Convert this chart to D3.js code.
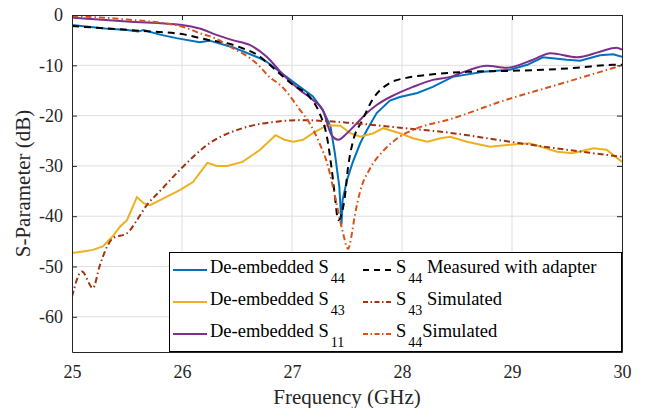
<!DOCTYPE html>
<html>
<head>
<meta charset="utf-8">
<script src="https://cdn.jsdelivr.net/npm/d3@7"></script>
</head>
<body style="margin:0;background:#fff">
<div class="container"></div>
<script>
var width = 646;
var height = 408;
var margin = {top: 15, right: 24, bottom: 56, left: 72};
var fontFamily = "'Liberation Serif', 'DejaVu Serif', serif";

// tick labels
var xTicks = [25, 26, 27, 28, 29, 30];
var yTicks = [0, -10, -20, -30, -40, -50, -60];

// De-embedded S44
var s44F  = [25.0, 25.3, 25.5, 25.6, 25.65, 25.8, 25.95, 26.16, 26.25, 26.46, 26.71, 26.77, 27.01, 27.19, 27.28, 27.35, 27.39, 27.43, 27.45, 27.46, 27.5, 27.55, 27.62, 27.68, 27.77, 27.89, 27.98, 28.14, 28.28, 28.46, 28.74, 28.98, 29.14, 29.28, 29.5, 29.62, 29.8, 29.92, 30.0];
var s44dB = [-2.0, -2.7, -3.0, -3.3, -3.0, -3.9, -4.6, -5.4, -5.1, -6.4, -8.6, -9.3, -13.3, -16.2, -18.9, -22.2, -27.5, -34.1, -41.7, -36.8, -32.8, -29.4, -25.5, -22.9, -19.5, -17.0, -16.3, -15.5, -14.3, -12.3, -11.3, -10.9, -9.9, -8.4, -8.9, -9.1, -8.0, -7.8, -8.3];

// S44 measured with adapter
var s44mF  = [25.0, 25.65, 26.0, 26.25, 26.41, 26.55, 26.71, 26.77, 27.01, 27.16, 27.25, 27.32, 27.36, 27.39, 27.42, 27.48, 27.51, 27.55, 27.64, 27.73, 27.89, 28.04, 28.28, 28.59, 28.98, 29.28, 29.59, 29.92, 30.0];
var s44mdB = [-2.2, -3.2, -3.8, -5.0, -5.6, -6.6, -8.3, -9.4, -13.9, -16.3, -19.5, -24.5, -30.5, -36.0, -40.8, -36.2, -30.2, -25.5, -20.9, -16.9, -13.5, -12.5, -11.8, -11.3, -11.1, -10.9, -10.5, -9.9, -9.9];

// De-embedded S43
var s43F  = [25.0, 25.1, 25.19, 25.28, 25.37, 25.44, 25.5, 25.59, 25.65, 25.71, 25.89, 25.98, 26.1, 26.23, 26.32, 26.41, 26.55, 26.71, 26.85, 26.93, 27.01, 27.1, 27.19, 27.32, 27.44, 27.53, 27.62, 27.74, 27.83, 27.98, 28.1, 28.23, 28.35, 28.44, 28.59, 28.8, 28.98, 29.16, 29.41, 29.55, 29.74, 29.86, 30.0];
var s43dB = [-47.3, -47.0, -46.7, -46.0, -44.0, -42.0, -40.8, -36.2, -37.4, -37.8, -35.8, -34.8, -33.2, -29.4, -30.0, -30.0, -29.2, -26.8, -23.9, -24.8, -25.2, -24.8, -23.5, -21.9, -22.0, -23.5, -24.2, -23.5, -22.5, -23.5, -24.5, -25.2, -24.5, -24.2, -25.2, -26.2, -25.8, -25.5, -27.2, -27.5, -26.5, -26.8, -29.2];

// S43 simulated
var s43sF  = [25.0, 25.09, 25.19, 25.25, 25.32, 25.37, 25.5, 25.59, 25.68, 25.8, 25.98, 26.25, 26.55, 26.86, 27.07, 27.5, 27.98, 28.5, 28.89, 29.5, 30.0];
var s43sdB = [-56.0, -51.0, -54.3, -50.0, -46.0, -44.4, -43.4, -40.8, -37.8, -35.0, -30.8, -25.5, -22.5, -21.2, -20.9, -21.4, -22.4, -23.6, -24.9, -26.8, -28.2];

// De-embedded S11
var s11F  = [25.0, 25.5, 26.0, 26.16, 26.32, 26.46, 26.62, 26.77, 26.92, 27.07, 27.19, 27.28, 27.36, 27.42, 27.5, 27.59, 27.68, 27.77, 27.92, 27.98, 28.1, 28.28, 28.44, 28.59, 28.77, 28.95, 29.19, 29.35, 29.59, 29.8, 29.95, 30.0];
var s11dB = [-0.5, -1.3, -2.0, -2.7, -4.0, -5.0, -6.0, -8.3, -11.9, -14.9, -16.9, -18.9, -23.9, -24.8, -23.5, -21.5, -19.5, -17.9, -16.0, -15.4, -14.3, -12.9, -12.3, -11.1, -10.1, -10.5, -8.9, -7.6, -8.4, -7.3, -6.5, -6.9];

// S44 simulated
var s44sF  = [25.0, 25.5, 26.0, 26.16, 26.3, 26.46, 26.6, 26.71, 26.77, 26.92, 27.07, 27.16, 27.25, 27.32, 27.4, 27.46, 27.51, 27.54, 27.57, 27.62, 27.71, 27.83, 27.98, 28.14, 28.44, 28.9, 29.5, 30.0];
var s44sdB = [-0.2, -0.9, -2.3, -3.6, -4.6, -6.6, -8.3, -10.3, -11.8, -14.5, -18.8, -21.5, -25.5, -29.5, -37.0, -43.0, -46.5, -44.0, -40.0, -35.0, -30.5, -27.0, -24.2, -22.5, -20.7, -17.2, -13.3, -10.0];

var series = [
  {f: s44F,  v: s44dB,  color: "#0072BD", dash: null,         curve: d3.curveLinear},
  {f: s43F,  v: s43dB,  color: "#EDB120", dash: null,         curve: d3.curveLinear},
  {f: s11F,  v: s11dB,  color: "#7E2F8E", dash: null,         curve: d3.curveMonotoneX},
  {f: s44mF, v: s44mdB, color: "#000000", dash: "7,5",        curve: d3.curveMonotoneX},
  {f: s43sF, v: s43sdB, color: "#A3320E", dash: "6,3,1.5,3",  curve: d3.curveMonotoneX},
  {f: s44sF, v: s44sdB, color: "#D95319", dash: "6,3,1.5,3",  curve: d3.curveMonotoneX}
];

var xScale = d3.scaleLinear().domain([25, 30]).range([margin.left, width - margin.right]);
var yScale = d3.scaleLinear().domain([-67, 0]).range([height - margin.bottom, margin.top]);

var svg = d3.select(".container").append("svg")
  .attr("width", width).attr("height", height)
  .attr("font-family", fontFamily);

var x0 = xScale.range()[0], x1 = xScale.range()[1];
var y0 = yScale.range()[1], y1 = yScale.range()[0];

//-----------------------------------------
// grid
svg.append("g").selectAll("line")
  .data(xTicks.slice(1, -1)).enter().append("line")
  .attr("x1", d => xScale(d)).attr("x2", d => xScale(d))
  .attr("y1", y0).attr("y2", y1)
  .attr("stroke", "#dfdfdf").attr("stroke-width", 1);
svg.append("g").selectAll("line")
  .data(yTicks.slice(1)).enter().append("line")
  .attr("x1", x0).attr("x2", x1)
  .attr("y1", d => yScale(d)).attr("y2", d => yScale(d))
  .attr("stroke", "#dfdfdf").attr("stroke-width", 1);

//-----------------------------------------
// curves
svg.append("clipPath").attr("id", "clip")
  .append("rect").attr("x", x0).attr("y", y0).attr("width", x1 - x0).attr("height", y1 - y0);

var plot = svg.append("g").attr("clip-path", "url(#clip)");
series.forEach(function(s) {
  var pts = s.f.map((f, i) => [f, s.v[i]]);
  var line = d3.line().x(d => xScale(d[0])).y(d => yScale(d[1])).curve(s.curve);
  plot.append("path")
    .datum(pts)
    .attr("d", line)
    .attr("fill", "none")
    .attr("stroke", s.color)
    .attr("stroke-width", 2)
    .attr("stroke-dasharray", s.dash);
});

//-----------------------------------------
// axes
var axisColor = "#262626";
var xAxis = d3.axisBottom(xScale).tickValues(xTicks).tickFormat(d3.format("d")).tickSizeInner(-5).tickSizeOuter(0).tickPadding(13);
var yAxis = d3.axisLeft(yScale).tickValues(yTicks).tickFormat(d => d === 0 ? "0" : "-" + Math.abs(d)).tickSizeInner(-5).tickSizeOuter(0).tickPadding(9);
var xTop = d3.axisTop(xScale).tickValues(xTicks).tickFormat("").tickSizeInner(-5).tickSizeOuter(0);
var yRight = d3.axisRight(yScale).tickValues(yTicks).tickFormat("").tickSizeInner(-5).tickSizeOuter(0);

function style_axis(g) {
  g.attr("font-family", fontFamily).attr("font-size", 18);
  g.selectAll("path").attr("stroke", axisColor).attr("stroke-width", 1);
  g.selectAll("line").attr("stroke", axisColor);
  g.selectAll("text").attr("fill", axisColor)
    .attr("font-family", fontFamily).style("font-family", fontFamily).style("font-size", "18px");
}

svg.append("g").attr("transform", "translate(0," + y1 + ")").call(xAxis).call(style_axis);
svg.append("g").attr("transform", "translate(" + x0 + ",0)").call(yAxis).call(style_axis);
svg.append("g").attr("transform", "translate(0," + y0 + ")").call(xTop).call(style_axis);
svg.append("g").attr("transform", "translate(" + x1 + ",0)").call(yRight).call(style_axis);

svg.append("text")
  .attr("x", (x0 + x1) / 2).attr("y", 404)
  .attr("text-anchor", "middle").attr("fill", axisColor)
  .style("font-family", fontFamily).style("font-size", "21px")
  .text("Frequency (GHz)");

svg.append("text")
  .attr("transform", "translate(30," + (y0 + y1) / 2 + ") rotate(-90)")
  .attr("text-anchor", "middle").attr("fill", axisColor)
  .style("font-family", fontFamily).style("font-size", "21px")
  .text("S-Parameter (dB)");

//-----------------------------------------
// legend
var legendEntries = [
  {s: 0, col: 0, row: 0, pre: "De-embedded S", sub: "44", post: ""},
  {s: 3, col: 1, row: 0, pre: "S", sub: "44", post: " Measured with adapter"},
  {s: 1, col: 0, row: 1, pre: "De-embedded S", sub: "43", post: ""},
  {s: 4, col: 1, row: 1, pre: "S", sub: "43", post: " Simulated"},
  {s: 2, col: 0, row: 2, pre: "De-embedded S", sub: "11", post: ""},
  {s: 5, col: 1, row: 2, pre: "S", sub: "44", post: "Simulated"}
];
var lg = {x: 169, y: 252, w: x1 - 169, h: y1 - 252, rowY: [270, 302, 334], colX: [173, 363], lineW: [34, 30]};

svg.append("rect")
  .attr("x", lg.x + 0.5).attr("y", lg.y + 0.5)
  .attr("width", lg.w - 1).attr("height", lg.h - 1)
  .attr("fill", "#fff").attr("stroke", "#000").attr("stroke-width", 1);

var legend = svg.selectAll(".legend-item")
  .data(legendEntries).enter().append("g")
  .attr("class", "legend-item")
  .attr("transform", d => "translate(" + lg.colX[d.col] + "," + lg.rowY[d.row] + ")");

legend.append("line")
  .attr("x1", 0).attr("x2", d => lg.lineW[d.col])
  .attr("y1", 0).attr("y2", 0)
  .attr("stroke", d => series[d.s].color)
  .attr("stroke-width", 2)
  .attr("stroke-dasharray", d => d.col === 1 ? (d.row === 0 ? "6,5" : "5,2.5,1.5,2.5") : null);

var ltext = legend.append("text")
  .attr("x", d => lg.lineW[d.col] + 3).attr("y", 3)
  .attr("fill", "#000")
  .style("font-family", fontFamily).style("font-size", "18.5px");
ltext.append("tspan").text(d => d.pre);
ltext.append("tspan").attr("dx", 2).attr("dy", 10).style("font-size", "14px").text(d => d.sub);
ltext.append("tspan").attr("dy", -10).text(d => d.post);
</script>
</body>
</html>
